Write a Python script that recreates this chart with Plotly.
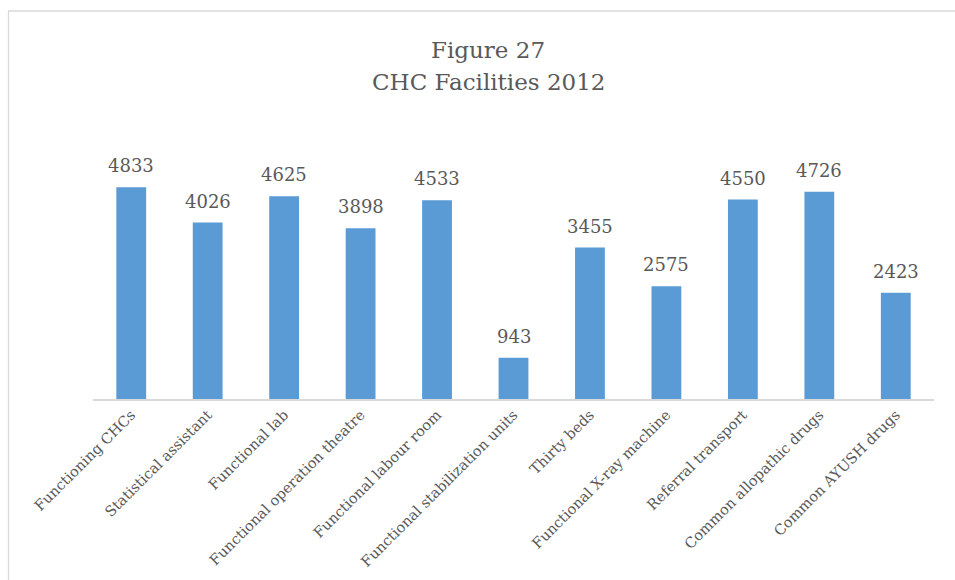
import plotly.graph_objects as go

categories = [
    "Functioning CHCs",
    "Statistical assistant",
    "Functional lab",
    "Functional operation theatre",
    "Functional labour room",
    "Functional stabilization units",
    "Thirty beds",
    "Functional X-ray machine",
    "Referral transport",
    "Common allopathic drugs",
    "Common AYUSH drugs",
]
values = [4833, 4026, 4625, 3898, 4533, 943, 3455, 2575, 4550, 4726, 2423]

title_lines = ["Figure 27", "CHC Facilities 2012"]

FONT = "DejaVu Serif"
TEXT_COLOR = "#595959"
BAR_COLOR = "#5b9bd5"

W, H = 955, 580
ML, MR, MT, MB = 93, 21, 136, 181
PW, PH = W - ML - MR, H - MT - MB


def px_to_paper_x(px):
    return (px - ML) / PW


def px_to_paper_y(py):
    return (H - MB - py) / PH


fig = go.Figure(
    go.Bar(
        x=categories,
        y=values,
        marker=dict(color=BAR_COLOR, line=dict(width=0)),
        hoverinfo="x+y",
    )
)

# value labels above each bar
for c, v in zip(categories, values):
    fig.add_annotation(
        x=c, y=v, text=str(v), showarrow=False,
        yanchor="bottom", yshift=9,
        font=dict(family=FONT, size=18, color=TEXT_COLOR),
    )

# two-line chart title
for line, cy in zip(title_lines, [50, 82]):
    fig.add_annotation(
        xref="paper", yref="paper",
        x=px_to_paper_x(488), y=px_to_paper_y(cy),
        xanchor="center", yanchor="middle",
        text=line, showarrow=False,
        font=dict(family=FONT, size=23, color=TEXT_COLOR),
    )

# outer chart border (light gray frame)
fig.add_shape(
    type="rect", xref="paper", yref="paper",
    x0=px_to_paper_x(8.5), x1=px_to_paper_x(970),
    y0=px_to_paper_y(600), y1=px_to_paper_y(11),
    line=dict(color="#d9d9d9", width=1.3), fillcolor="rgba(0,0,0,0)",
    layer="below",
)

fig.update_layout(
    width=W, height=H,
    margin=dict(l=ML, r=MR, t=MT, b=MB, autoexpand=False),
    paper_bgcolor="white", plot_bgcolor="white",
    bargap=0.61,
    showlegend=False,
    xaxis=dict(
        tickangle=-45,
        tickfont=dict(family=FONT, size=14.5, color=TEXT_COLOR),
        showline=True, linecolor="#d9d9d9", linewidth=1.5,
        ticks="", showgrid=False,
    ),
    yaxis=dict(
        range=[0, 6000], visible=False, showgrid=False, zeroline=False,
    ),
)

fig.write_html("out.html")
